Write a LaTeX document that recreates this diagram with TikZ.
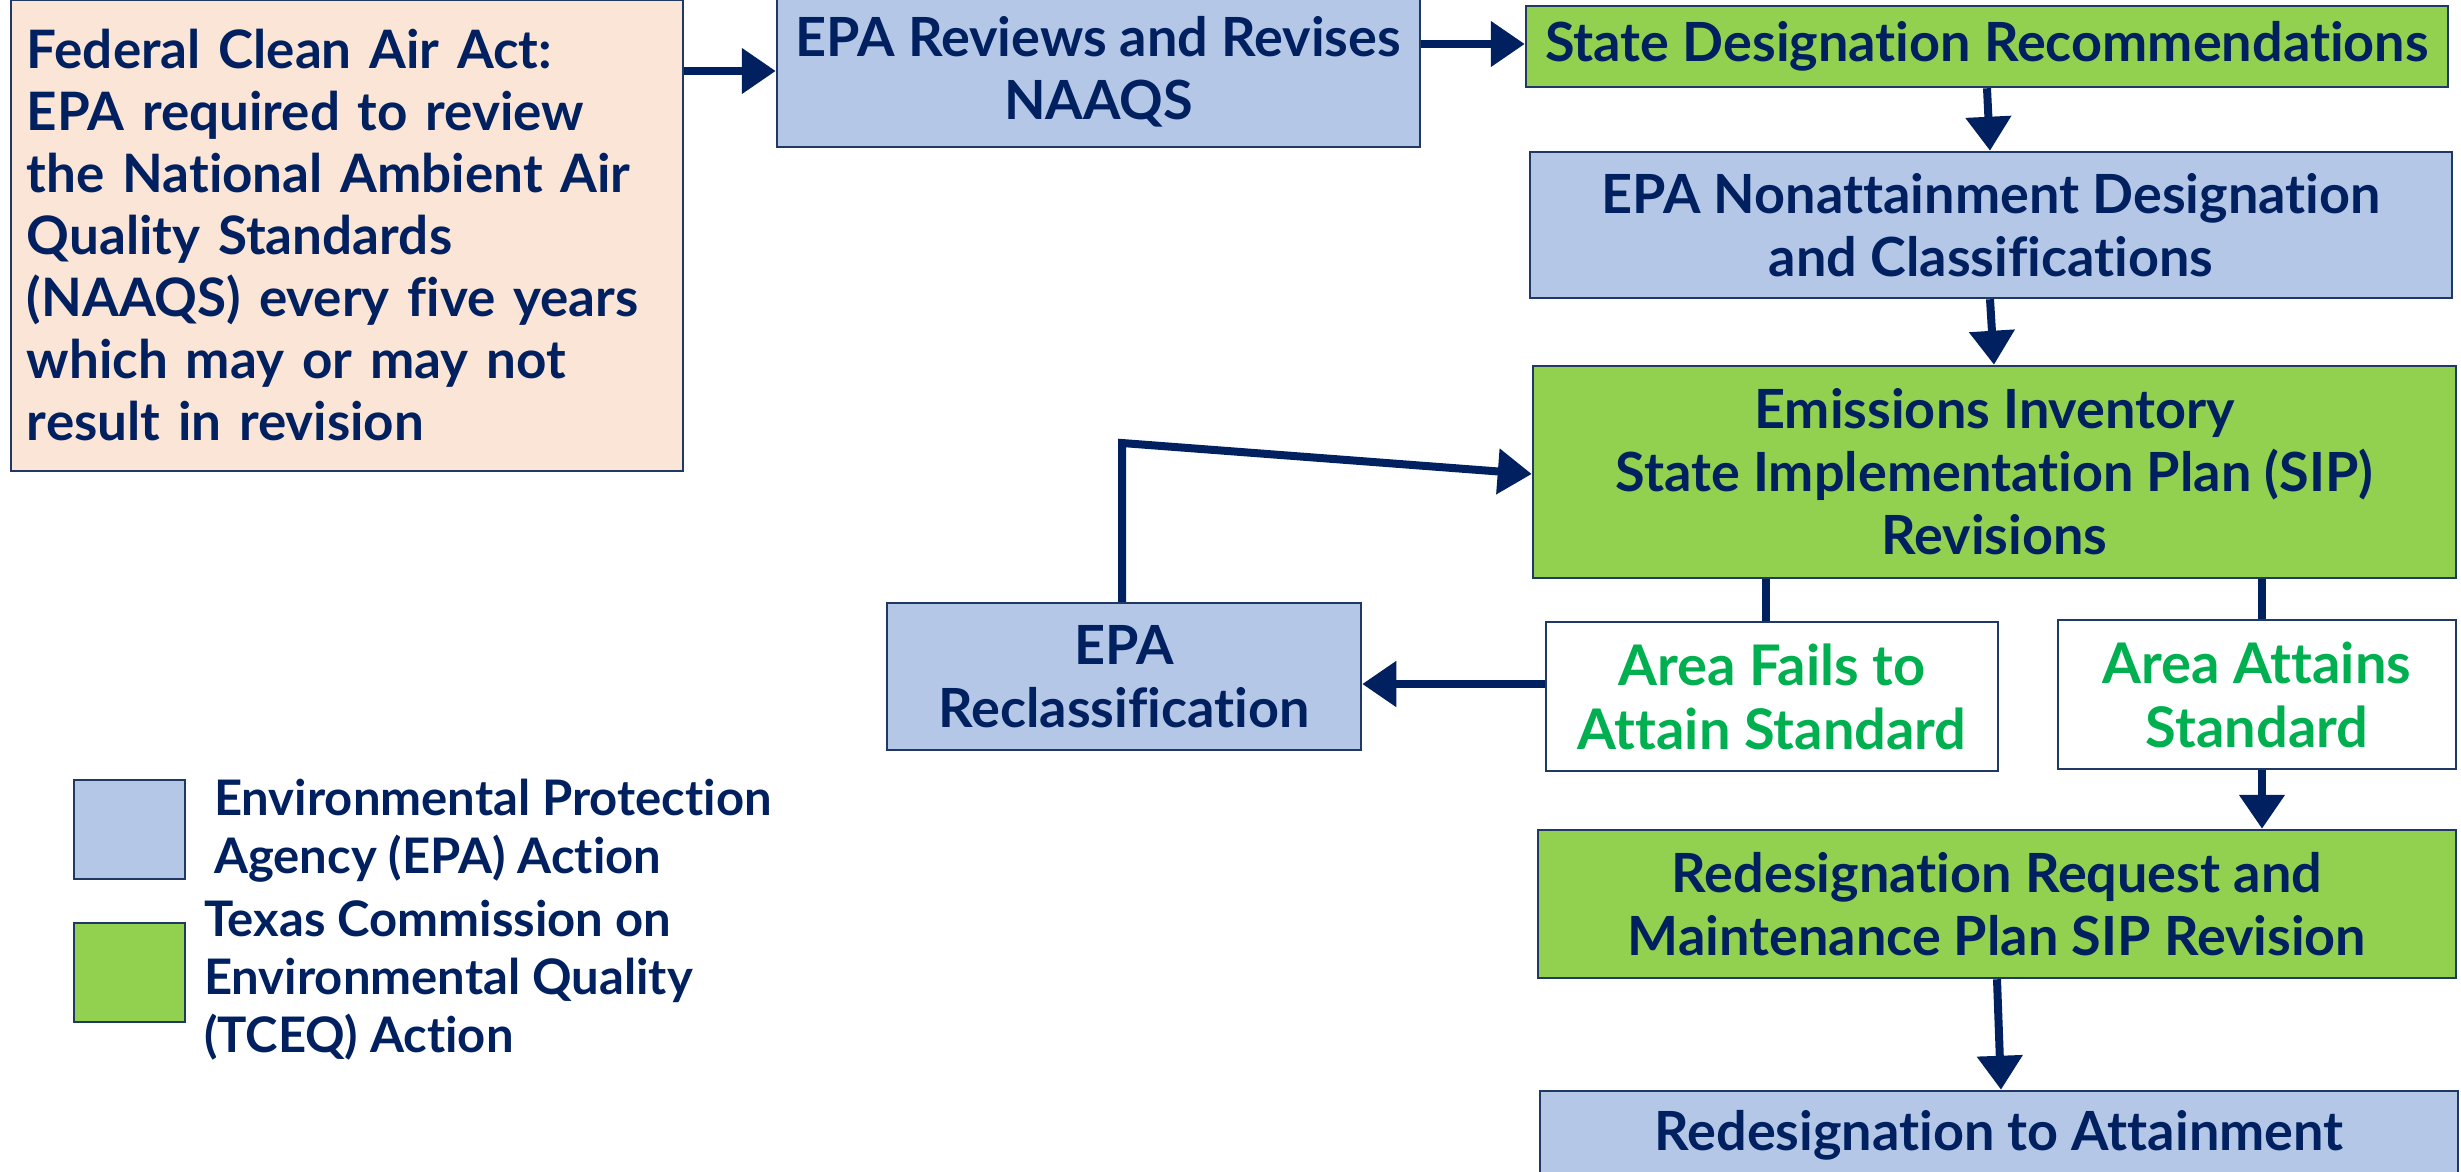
\documentclass[tikz,border=0pt]{standalone}
\usepackage{fontspec}
\setmainfont{Lato}[Ligatures={NoCommon}]
\usetikzlibrary{arrows.meta,calc}
\definecolor{navy}{HTML}{002060}
\definecolor{boxline}{HTML}{1F3864}
\definecolor{epablue}{HTML}{B4C7E7}
\definecolor{tceqgreen}{HTML}{92D050}
\definecolor{peach}{HTML}{FBE5D6}
\definecolor{areagreen}{HTML}{00B050}
\tikzset{
  box/.style={draw=boxline, line width=2.5pt, inner sep=0pt, align=center, text=navy,
    font=\fontsize{54}{63}\selectfont\bfseries},
  epa/.style={box, fill=epablue},
  tceq/.style={box, fill=tceqgreen},
  areabox/.style={box, fill=white, text=areagreen, font=\fontsize{56}{64}\selectfont\bfseries},
  legtext/.style={anchor=west, align=left, text=navy, inner sep=0pt,
    font=\fontsize{49}{58}\selectfont\bfseries},
  arr/.style={draw=navy, line width=8pt, -{Triangle[length=34pt,width=44pt]}},
  link/.style={draw=navy, line width=8pt}
}
\begin{document}
\begin{tikzpicture}[x=1pt,y=-1pt]
\useasboundingbox (0,0) rectangle (2461,1171);
\fill[white] (0,0) rectangle (2461,1171);

\node[box, fill=peach, minimum width=672pt, minimum height=471pt, text width=640pt, align=left,
  font=\fontsize{53}{62}\selectfont\bfseries] (act) at (347,235.5)
  {Federal Clean Air Act:\\EPA required to review\\the National Ambient Air\\Quality Standards\\(NAAQS) every five years\\which may or may not\\result in revision};
\node[epa, minimum width=643pt, minimum height=150pt] (review) at (1098.5,72) {EPA Reviews and Revises\\NAAQS};
\node[tceq, minimum width=922pt, minimum height=81pt] (state) at (1987,46.5) {State Designation Recommendations};
\node[epa, minimum width=922pt, minimum height=146pt] (nonatt) at (1991,225) {EPA Nonattainment Designation\\and Classifications};
\node[tceq, minimum width=923pt, minimum height=212pt] (emis) at (1994.5,472) {Emissions Inventory\\State Implementation Plan (SIP)\\Revisions};
\node[areabox, minimum width=452pt, minimum height=149pt] (fails) at (1772,696.5) {Area Fails to\\Attain Standard};
\node[areabox, minimum width=398pt, minimum height=149pt] (attains) at (2257,694.5) {Area Attains\\Standard};
\node[epa, minimum width=474pt, minimum height=147pt] (reclass) at (1124,676.5) {EPA\\Reclassification};
\node[tceq, minimum width=918pt, minimum height=148pt] (request) at (1997,904) {Redesignation Request and\\Maintenance Plan SIP Revision};
\node[epa, minimum width=918pt, minimum height=89pt] (attain) at (1999,1135.5) {Redesignation to Attainment};

\node[epa, minimum width=111pt, minimum height=99pt] (legepa) at (129.5,829.5) {};
\node[tceq, minimum width=111pt, minimum height=99pt] (legtceq) at (129.5,972.5) {};
\node[legtext] (legepatext) at (214,831) {Environmental Protection\\Agency (EPA) Action};
\node[legtext] (legtceqtext) at (204,980) {Texas Commission on\\Environmental Quality\\(TCEQ) Action};

\draw[arr] (act.east |- 0,71) -- (review.west |- 0,71);
\draw[arr] (review.east |- 0,44) -- (state.west |- 0,44);
\draw[arr] (state.south -| 1987,0) -- (nonatt.north -| 1990,0);
\draw[arr] (nonatt.south -| 1990,0) -- (emis.north -| 1994,0);
\draw[link] (emis.south -| 1766,0) -- (fails.north -| 1766,0);
\draw[link] (emis.south -| 2262,0) -- (attains.north -| 2262,0);
\draw[arr] (fails.west |- 0,684) -- (reclass.east |- 0,684);
\coordinate (bend) at (1122,443);
\draw[arr] (reclass.north -| bend) -- (bend) -- (emis.west |- 0,474);
\draw[arr] (attains.south -| 2262,0) -- (request.north -| 2262,0);
\draw[arr] (request.south -| 1997,0) -- (attain.north -| 2001,0);
\end{tikzpicture}
\end{document}
